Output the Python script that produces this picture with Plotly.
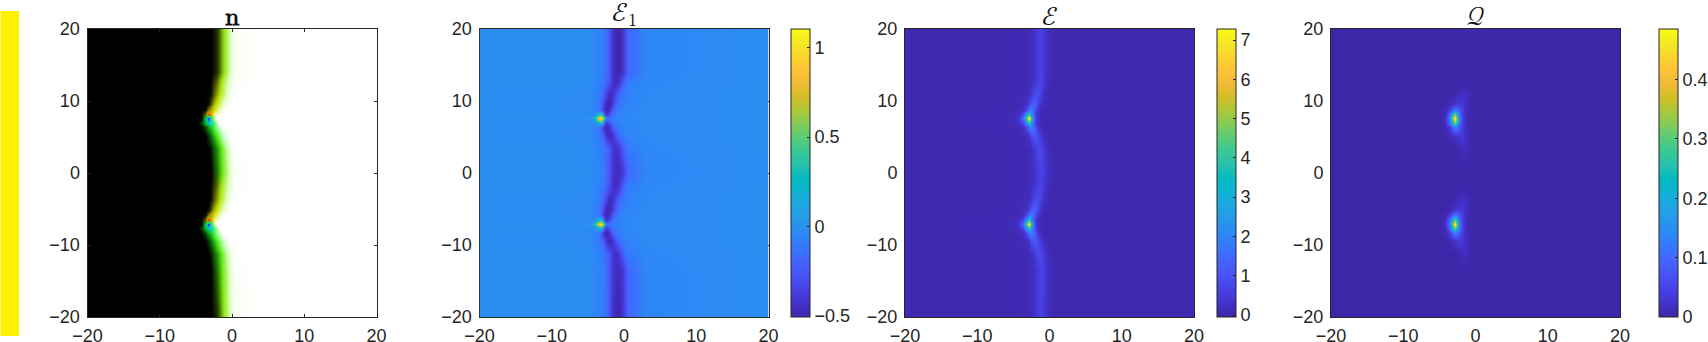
"""Four-panel defect field figure: n, E1, E and Q."""
import plotly.graph_objects as go

INK = '#262626'
AXIS_FONT = dict(family="Liberation Sans, Arial, sans-serif", size=18, color=INK)
W, H = 1708, 342

PARULA = ['#3e26a8', '#4332cb', '#4741e5', '#4852f4', '#4563fd', '#3875fe', '#2e87f7', '#2796eb',
          '#20a5e3', '#12b1d6', '#02bac3', '#24c1ae', '#37c897', '#57cc7a', '#81cc59', '#abc739',
          '#d1bf27', '#f0ba36', '#fec338', '#fad62d', '#f5e924', '#f9fb15']
PARULA_SCALE = [[i / (len(PARULA) - 1), c] for i, c in enumerate(PARULA)]

TICKS = [-20, -10, 0, 10, 20]

# grid nodes, finer around the two defects
X_NODES = [-20, -6, -4.8, -4.2, -3.7, -3.3, -2.9, -2.5, -2.1, -1.7, -1.3, -0.9, -0.5, -0.1, 0.5, 3, 20]
Y_NODES = [-20, -13.5, -11.2, -9.5, -8.3, -7.7, -7.1, -6.5, -5.9, -5.1, -3.7, -1.8, 0.3,
           3.5, 5.2, 6.4, 7.0, 7.6, 8.2, 8.8, 9.6, 11, 12.5, 14, 20]
# both defects look alike, so rows are read once: T, M, A4, A3, A2, A1, D0, B1, B2, B3, B4, C
ROW_ORDER = [0, 1, 10, 9, 8, 7, 6, 5, 4, 3, 2, 11, 1, 10, 9, 8, 7, 6, 5, 4, 3, 2, 11, 0, 0]

N_BASE = [
    [0, 0, 0, 0, 0, 0, .02, .08, .2, .33, .45, .55, .68, .82, .94, 1, 1],
    [0, 0, 0, 0, 0, 0, .02, .12, .24, .38, .52, .62, .72, .85, .97, 1, 1],
    [0, 0, 0, 0, 0, .01, .05, .18, .34, .5, .62, .74, .87, .95, 1, 1, 1],
    [0, 0, 0, 0, .01, .06, .17, .33, .5, .66, .8, .9, .96, 1, 1, 1, 1],
    [0, 0, 0, .01, .05, .15, .32, .5, .72, .88, .95, .98, 1, 1, 1, 1, 1],
    [0, 0, .01, .04, .12, .3, .5, .78, .93, .98, 1, 1, 1, 1, 1, 1, 1],
    [0, 0, 0, .01, .05, .3, .6, .9, 1, 1, 1, 1, 1, 1, 1, 1, 1],
    [0, 0, .01, .04, .1, .22, .48, .85, .96, 1, 1, 1, 1, 1, 1, 1, 1],
    [0, 0, 0, .01, .06, .18, .38, .62, .85, .95, 1, 1, 1, 1, 1, 1, 1],
    [0, 0, 0, 0, .01, .06, .16, .32, .5, .68, .84, .93, .98, 1, 1, 1, 1],
    [0, 0, 0, 0, 0, .01, .05, .15, .28, .42, .58, .7, .82, .92, .99, 1, 1],
    [0, 0, 0, 0, 0, 0, .03, .14, .28, .43, .56, .66, .76, .88, .98, 1, 1],
]
N_WARM = [
    [0] * 17,
    [0] * 17,
    [0, 0, 0, 0, 0, 0, .04, .14, .18, .16, .1, .04, 0, 0, 0, 0, 0],
    [0, 0, 0, 0, 0, 0, .16, .28, .26, .16, .06, 0, 0, 0, 0, 0, 0],
    [0, 0, 0, 0, 0, .25, .45, .35, .22, .08, 0, 0, 0, 0, 0, 0, 0],
    [0, 0, 0, 0, .2, .9, .55, .2, .08, 0, 0, 0, 0, 0, 0, 0, 0],
    [0, 0, 0, 0, .12, .45, .2, 0, 0, 0, 0, 0, 0, 0, 0, 0, 0],
    [0] * 17,
    [0] * 17,
    [0] * 17,
    [0] * 17,
    [0, 0, 0, 0, 0, 0, .02, .07, .1, .1, .06, .02, 0, 0, 0, 0, 0],
]
N_COLD = [
    [0] * 17,
    [0, 0, 0, 0, 0, 0, 0, .06, .12, .14, .1, .04, 0, 0, 0, 0, 0],
    [0] * 17,
    [0] * 17,
    [0] * 17,
    [0] * 17,
    [0, 0, 0, 0, .4, 1, .35, .08, 0, 0, 0, 0, 0, 0, 0, 0, 0],
    [0, 0, 0, .1, .35, .6, .6, .3, .1, 0, 0, 0, 0, 0, 0, 0, 0],
    [0, 0, 0, 0, .12, .25, .32, .25, .15, .06, 0, 0, 0, 0, 0, 0, 0],
    [0, 0, 0, 0, 0, .08, .18, .22, .2, .14, .07, .02, 0, 0, 0, 0, 0],
    [0, 0, 0, 0, 0, 0, .05, .12, .17, .17, .12, .06, .02, 0, 0, 0, 0],
    [0] * 17,
]
E1_ROWS = [
    [-.01, -.01, -.02, -.03, -.05, -.07, -.1, -.14, -.22, -.38, -.47, -.5, -.47, -.38, -.2, -.05, -.01],
    [-.01, -.01, -.02, -.03, -.05, -.07, -.1, -.15, -.24, -.37, -.44, -.46, -.44, -.36, -.19, -.05, -.01],
    [-.01, -.02, -.03, -.05, -.08, -.13, -.21, -.33, -.44, -.46, -.36, -.23, -.14, -.1, -.07, -.03, -.01],
    [-.01, -.02, -.03, -.06, -.1, -.18, -.33, -.46, -.5, -.42, -.26, -.15, -.1, -.08, -.06, -.03, -.01],
    [-.01, -.02, -.04, -.07, -.1, -.2, -.4, -.5, -.46, -.3, -.16, -.1, -.08, -.07, -.05, -.03, -.01],
    [-.01, -.02, -.03, -.03, .12, .35, -.1, -.44, -.36, -.18, -.1, -.07, -.06, -.05, -.04, -.03, -.01],
    [-.01, -.01, .01, .12, .7, 1.1, .6, -.05, -.12, -.09, -.07, -.06, -.05, -.05, -.04, -.03, -.01],
    [-.01, -.02, -.03, -.03, .1, .32, -.1, -.42, -.32, -.16, -.1, -.07, -.06, -.05, -.04, -.03, -.01],
    [-.01, -.02, -.04, -.06, -.08, -.2, -.42, -.5, -.45, -.27, -.15, -.1, -.08, -.07, -.05, -.03, -.01],
    [-.01, -.02, -.03, -.06, -.09, -.14, -.23, -.38, -.48, -.46, -.33, -.2, -.12, -.09, -.06, -.03, -.01],
    [-.01, -.01, -.02, -.04, -.06, -.08, -.12, -.16, -.23, -.35, -.45, -.43, -.32, -.2, -.1, -.04, -.01],
    [-.01, -.01, -.02, -.04, -.06, -.09, -.13, -.18, -.27, -.39, -.47, -.44, -.33, -.19, -.09, -.04, -.01],
]
E_ROWS = [
    [.03, .03, .05, .06, .07, .08, .1, .14, .25, .5, .65, .5, .25, .12, .05, .03, .03],
    [.03, .03, .05, .06, .07, .08, .1, .14, .22, .45, .68, .6, .35, .15, .06, .03, .03],
    [.03, .03, .05, .07, .09, .12, .2, .4, .75, .95, .65, .3, .13, .07, .04, .03, .03],
    [.03, .04, .06, .08, .14, .25, .6, 1.1, 1.35, .85, .35, .14, .07, .05, .04, .03, .03],
    [.03, .05, .07, .12, .25, .7, 1.6, 2.0, 1.2, .45, .15, .07, .05, .04, .03, .03, .03],
    [.03, .06, .12, .3, .8, 2.1, 4.0, 2.2, .9, .25, .1, .05, .04, .03, .03, .03, .03],
    [.03, .06, .2, .4, 1.6, 4.0, 7.3, 4.0, 1.2, .25, .1, .05, .04, .03, .03, .03, .03],
    [.03, .06, .12, .3, .8, 2.0, 3.9, 2.4, 1.0, .3, .12, .06, .04, .03, .03, .03, .03],
    [.03, .05, .07, .12, .25, .7, 1.6, 2.0, 1.3, .5, .18, .08, .05, .04, .03, .03, .03],
    [.03, .04, .05, .07, .1, .16, .35, .8, 1.1, .95, .5, .2, .09, .05, .04, .03, .03],
    [.03, .03, .05, .06, .07, .08, .12, .2, .4, .72, .85, .55, .25, .1, .05, .03, .03],
    [.03, .03, .05, .06, .07, .08, .11, .18, .33, .6, .72, .48, .22, .1, .05, .03, .03],
]
Q_ROWS = [
    [0] * 17,
    [0] * 17,
    [0, 0, 0, 0, 0, .001, .004, .008, .015, .02, .016, .008, .001, 0, 0, 0, 0],
    [0, 0, 0, .002, .007, .015, .028, .036, .036, .03, .017, .007, .001, 0, 0, 0, 0],
    [0, 0, .001, .008, .03, .08, .12, .1, .06, .032, .015, .006, .001, 0, 0, 0, 0],
    [0, 0, .002, .015, .08, .2, .32, .2, .08, .032, .013, .004, 0, 0, 0, 0, 0],
    [0, 0, .002, .02, .1, .28, .485, .28, .1, .032, .011, .003, 0, 0, 0, 0, 0],
    [0, 0, .002, .015, .08, .2, .32, .2, .08, .032, .013, .004, 0, 0, 0, 0, 0],
    [0, 0, .001, .008, .03, .08, .12, .1, .06, .032, .015, .006, .001, 0, 0, 0, 0],
    [0, 0, 0, .001, .005, .012, .022, .03, .034, .029, .017, .007, .001, 0, 0, 0, 0],
    [0, 0, 0, 0, 0, 0, .001, .004, .008, .015, .014, .006, .001, 0, 0, 0, 0],
    [0] * 17,
]

E1_RANGE = [-0.505, 1.103]
E1_TICKS = [-0.5, 0, 0.5, 1]
E_RANGE = [-0.05, 7.28]
E_TICKS = [0, 1, 2, 3, 4, 5, 6, 7]
Q_RANGE = [0, 0.485]
Q_TICKS = [0, 0.1, 0.2, 0.3, 0.4]

BASE_SCALE = [[0, '#000000'], [.25, '#2a3c00'], [.5, '#96eb14'], [.75, '#e1ffc8'], [1, '#ffffff']]
WARM_SCALE = [[0, 'rgba(240,220,0,0)'], [.3, 'rgba(240,220,0,.6)'],
              [.6, 'rgba(255,150,0,.85)'], [1, 'rgba(255,0,0,.95)']]
COLD_SCALE = [[0, 'rgba(0,230,0,0)'], [.3, 'rgba(0,230,40,.75)'],
              [.6, 'rgba(0,220,255,.85)'], [1, 'rgba(0,0,255,.95)']]

# left, right of each panel and colour bar, in pixels
PANELS = [(87.5, 376.5), (479.5, 768.5), (905, 1194), (1331, 1620)]
BARS = [None, 791, 1217, 1659]
TOP, BOTTOM = 29, 317
TITLES = ["<b>n</b>", "ℰ<sub>1</sub>", "ℰ", "𝒬"]


def expand(rows):
    return [rows[i] for i in ROW_ORDER]


def scalar_panel(fig, rows, zrange, ticks, idx):
    fig.add_trace(go.Heatmap(
        x=X_NODES, y=Y_NODES, z=expand(rows), zmin=zrange[0], zmax=zrange[1],
        zsmooth='best', colorscale=PARULA_SCALE, hoverinfo='skip',
        xaxis=f'x{idx + 1}', yaxis=f'y{idx + 1}',
        colorbar=dict(
            x=BARS[idx] / W, xanchor='left', xpad=0, ypad=0,
            y=1 - BOTTOM / H, yanchor='bottom', len=(BOTTOM - TOP) / H, lenmode='fraction',
            thickness=18.5, thicknessmode='pixels',
            outlinecolor=INK, outlinewidth=1,
            ticks='inside', ticklen=3, tickcolor=INK, tickvals=ticks, tickfont=AXIS_FONT,
        ),
    ))


fig = go.Figure()

# n panel: lightness plus two tints, since it is an rgb picture
for rows, scale in [(N_BASE, BASE_SCALE), (N_WARM, WARM_SCALE), (N_COLD, COLD_SCALE)]:
    fig.add_trace(go.Heatmap(x=X_NODES, y=Y_NODES, z=expand(rows), zmin=0, zmax=1, zsmooth='best',
                             colorscale=scale, showscale=False, hoverinfo='skip', xaxis='x1', yaxis='y1'))

scalar_panel(fig, E1_ROWS, E1_RANGE, E1_TICKS, 1)
scalar_panel(fig, E_ROWS, E_RANGE, E_TICKS, 2)
scalar_panel(fig, Q_ROWS, Q_RANGE, Q_TICKS, 3)

layout = {}
annotations = []
for i, (left, right) in enumerate(PANELS):
    axis = dict(range=[-20, 20], tickvals=TICKS, ticks='inside', ticklen=3, tickcolor=INK,
                showgrid=False, zeroline=False, showline=True, linecolor=INK, linewidth=1,
                mirror='allticks', tickfont=AXIS_FONT,
                layer='above traces' if i == 0 else 'below traces')
    layout[f'xaxis{i + 1}'] = dict(axis, domain=[left / W, right / W], anchor=f'y{i + 1}', ticklabelstandoff=2)
    layout[f'yaxis{i + 1}'] = dict(axis, domain=[1 - BOTTOM / H, 1 - TOP / H], anchor=f'x{i + 1}', ticklabelstandoff=3)
    annotations.append(dict(text=TITLES[i], x=(left + right) / 2 / W, y=1 - TOP / H, xref='paper', yref='paper',
                            xanchor='center', yanchor='bottom', showarrow=False, yshift=-3,
                            font=dict(family="Latin Modern Math, DejaVu Math TeX Gyre, Liberation Serif, DejaVu Serif",
                                      size=26, color='#111111')))

fig.update_layout(
    width=W, height=H, margin=dict(l=0, r=0, t=0, b=0, autoexpand=False),
    paper_bgcolor='white', plot_bgcolor='white', showlegend=False,
    annotations=annotations,
    shapes=[dict(type='rect', xref='paper', yref='paper', x0=0.5 / W, x1=19 / W, y0=1 - 336 / H, y1=1 - 11 / H,
                 fillcolor='#fff000', line_width=0)],
    **layout,
)

fig.write_html("out.html", config={'displayModeBar': False},
               post_script="document.body.style.margin='0';document.body.style.overflow='hidden';")
